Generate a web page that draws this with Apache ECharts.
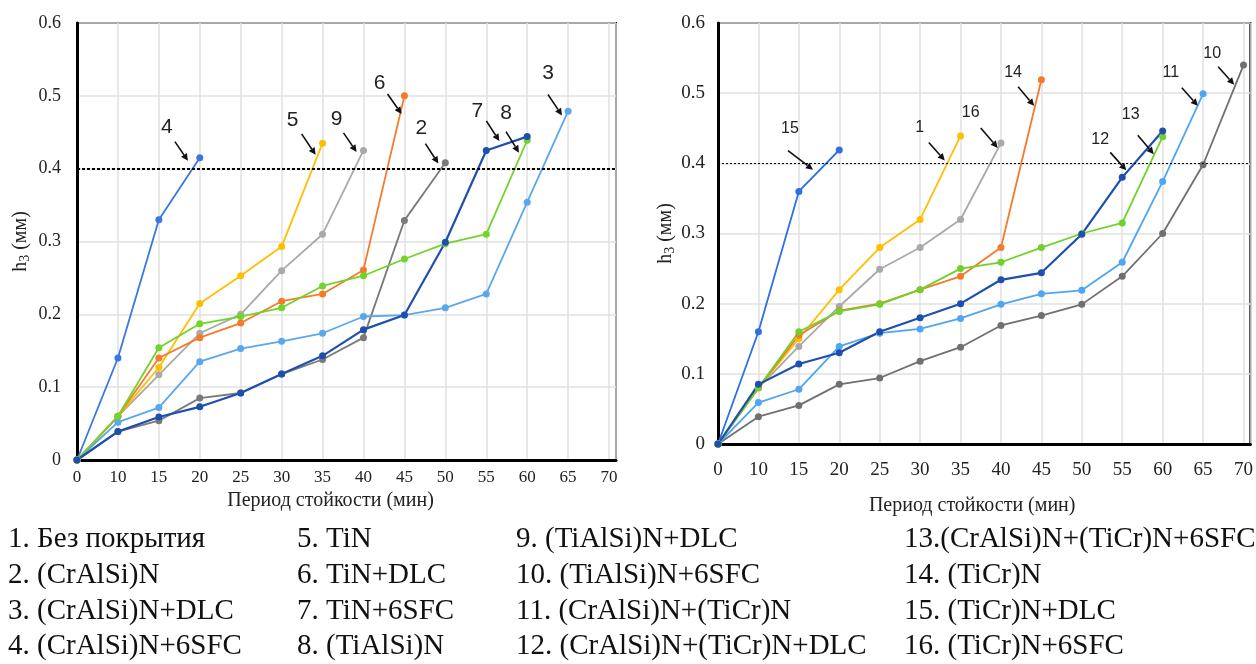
<!DOCTYPE html>
<html>
<head>
<meta charset="utf-8">
<script src="https://cdn.jsdelivr.net/npm/echarts@6/dist/echarts.min.js"></script>
<style>
  html, body { margin: 0; background: #fff; }
  #chart { width: 1256px; height: 664px; }
</style>
</head>
<body>
<div id="chart"></div>
<script>
// период стойкости, мин (одинаковые категории у обоих графиков)
const xTicks = ['0', '10', '15', '20', '25', '30', '35', '40', '45', '50', '55', '60', '65', '70']
const yTicks = ['0', '0.1', '0.2', '0.3', '0.4', '0.5', '0.6']
const limit = 0.4

// левый график, h3 (мм)
const s2 = [0, 0.039, 0.054, 0.085, 0.092, 0.118, 0.138, 0.168, 0.329, 0.408]
const s3 = [0, 0.052, 0.072, 0.135, 0.153, 0.163, 0.174, 0.197, 0.199, 0.209, 0.228, 0.354, 0.479]
const s4 = [0, 0.14, 0.33, 0.415]
const s5 = [0, 0.06, 0.127, 0.215, 0.253, 0.293, 0.435]
const s6 = [0, 0.06, 0.14, 0.168, 0.188, 0.218, 0.228, 0.261, 0.5]
const s7 = [0, 0.039, 0.059, 0.073, 0.092, 0.118, 0.143, 0.179, 0.199, 0.299, 0.425, 0.444]
const s8 = [0, 0.06, 0.154, 0.187, 0.197, 0.209, 0.239, 0.253, 0.276, 0.297, 0.31, 0.439]
const s9 = [0, 0.06, 0.117, 0.174, 0.2, 0.26, 0.31, 0.425]

// правый график
const s1 = [0, 0.08, 0.15, 0.22, 0.28, 0.32, 0.439]
const s10 = [0, 0.039, 0.055, 0.085, 0.094, 0.118, 0.138, 0.169, 0.183, 0.199, 0.239, 0.3, 0.398, 0.54]
const s11 = [0, 0.059, 0.078, 0.139, 0.158, 0.164, 0.179, 0.199, 0.214, 0.219, 0.259, 0.374, 0.499]
const s12 = [0, 0.085, 0.114, 0.13, 0.16, 0.18, 0.2, 0.234, 0.244, 0.299, 0.38, 0.446]
const s13 = [0, 0.08, 0.16, 0.189, 0.199, 0.22, 0.25, 0.259, 0.28, 0.3, 0.315, 0.438]
const s14 = [0, 0.08, 0.155, 0.19, 0.2, 0.22, 0.239, 0.28, 0.519]
const s15 = [0, 0.16, 0.36, 0.419]
const s16 = [0, 0.08, 0.139, 0.196, 0.249, 0.28, 0.32, 0.429]

const legendCol1 = ['1. Без покрытия', '2. (CrAlSi)N', '3. (CrAlSi)N+DLC', '4. (CrAlSi)N+6SFC']
const legendCol2 = ['5. TiN', '6. TiN+DLC', '7. TiN+6SFC', '8. (TiAlSi)N']
const legendCol3 = ['9. (TiAlSi)N+DLC', '10. (TiAlSi)N+6SFC', '11. (CrAlSi)N+(TiCr)N', '12. (CrAlSi)N+(TiCr)N+DLC']
const legendCol4 = ['13.(CrAlSi)N+(TiCr)N+6SFC', '14. (TiCr)N', '15. (TiCr)N+DLC', '16. (TiCr)N+6SFC']

// подписи-стрелки: номер, x (индекс категории), h3 острия, хвост dx/dy, текст dx/dy
const leftNotes = [
  ['4', 2.71, 0.411, -13, -19, -21, -33],
  ['5', 5.83, 0.419, -14, -21, -23, -35],
  ['9', 6.83, 0.423, -13, -19, -20, -33],
  ['6', 7.93, 0.475, -14, -20, -22, -31],
  ['2', 8.83, 0.407, -13, -20, -17, -35],
  ['7', 10.32, 0.438, -13, -20, -22, -30],
  ['8', 10.8, 0.422, -13, -21, -13, -39],
  ['3', 11.85, 0.473, -14, -21, -14, -42]
]
const rightNotes = [
  ['15', 2.35, 0.391, -25, -19, -23, -41],
  ['1', 5.61, 0.404, -16, -18, -25, -33],
  ['16', 6.92, 0.422, -17, -20, -27, -35],
  ['14', 7.82, 0.482, -16, -19, -21, -33],
  ['12', 10.1, 0.39, -16, -18, -26, -31],
  ['13', 10.78, 0.413, -16, -19, -23, -40],
  ['11', 11.87, 0.482, -16, -18, -27, -33],
  ['10', 12.77, 0.512, -16, -18, -22, -31]
]

const serif = "'Liberation Serif', 'DejaVu Serif', serif"

const chart = echarts.init(document.getElementById('chart'))

const mkLine = (name, data, color, g, width) => ({
  name: name,
  type: 'line',
  xAxisIndex: g,
  yAxisIndex: g,
  data: data.map((v, i) => [i, v]),
  symbol: 'circle',
  symbolSize: 7,
  color: color,
  lineStyle: {width: width || 1.8},
  emphasis: {disabled: true},
  animation: false
})

const mkX = (g, fontSize, margin, nameGap, namePad, nameSize) => ({
  type: 'value',
  gridIndex: g,
  min: 0,
  max: 13.17,
  interval: 1,
  axisLine: {show: true, lineStyle: {color: '#000', width: 3}},
  axisTick: {show: false},
  axisLabel: {
    margin: margin,
    color: '#222',
    fontFamily: serif,
    fontSize: fontSize,
    formatter: v => Number.isInteger(v) ? xTicks[v] : ''
  },
  splitLine: {show: true, lineStyle: {color: '#e0e0e0', width: 1.5}},
  name: 'Период стойкости (мин)',
  nameLocation: 'middle',
  nameGap: nameGap,
  nameTextStyle: {fontFamily: serif, fontSize: nameSize, color: '#222', padding: [0, namePad, 0, 0]}
})

const mkY = (g, fontSize, margin, nameGap, nameSize) => ({
  type: 'value',
  gridIndex: g,
  min: 0,
  max: 0.6,
  interval: 0.1,
  axisLine: {show: true, lineStyle: {color: '#000', width: 3}},
  axisTick: {show: false},
  axisLabel: {
    margin: margin,
    color: '#222',
    fontFamily: serif,
    fontSize: fontSize,
    formatter: v => yTicks[Math.round(v * 10)]
  },
  splitLine: {show: true, lineStyle: {color: '#e0e0e0', width: 1.5}},
  name: '{h|h}{s|3}{h| (мм)}',
  nameLocation: 'middle',
  nameGap: nameGap,
  nameRotate: 90,
  nameTextStyle: {
    rich: {
      h: {fontFamily: serif, fontSize: nameSize, color: '#222'},
      s: {fontFamily: serif, fontSize: nameSize - 6, color: '#222', padding: [8, 0, 0, 0]}
    }
  }
})

const limitLine = (width, dash) => ({
  silent: true,
  symbol: ['none', 'none'],
  label: {show: false},
  lineStyle: {color: '#000', width: width, type: dash},
  data: [{yAxis: limit}],
  animation: false
})

const series = [
  mkLine('4', s4, '#3a78e0', 0),
  mkLine('2', s2, '#7a7a7a', 0),
  mkLine('9', s9, '#a9a9a9', 0),
  mkLine('5', s5, '#ffbf00', 0),
  mkLine('6', s6, '#f47a2c', 0),
  mkLine('3', s3, '#5aa7ee', 0),
  mkLine('8', s8, '#72d329', 0),
  mkLine('7', s7, '#1e4fae', 0, 2.2),
  mkLine('15', s15, '#2e6fe3', 1),
  mkLine('10', s10, '#707070', 1),
  mkLine('16', s16, '#a9a9a9', 1),
  mkLine('1', s1, '#ffbf00', 1),
  mkLine('14', s14, '#f47a2c', 1),
  mkLine('11', s11, '#4ea6f2', 1),
  mkLine('13', s13, '#6fd22a', 1),
  mkLine('12', s12, '#1e4fae', 1, 2.2)
]
series[0].markLine = limitLine(2, [3, 2])
series[8].markLine = limitLine(1.2, [2, 2])

chart.setOption({
  animation: false,
  backgroundColor: '#fff',
  grid: [
    {left: 77, top: 23, width: 539, height: 437, show: true, borderColor: '#000', borderWidth: 2},
    {left: 718, top: 23, width: 543, height: 421, show: true, borderColor: '#000', borderWidth: 2}
  ],
  xAxis: [mkX(0, 17, 9, 30, 32, 20), mkX(1, 19, 17, 52, 24, 20)],
  yAxis: [mkY(0, 18, 16, 45, 20), mkY(1, 19, 13, 41, 20)],
  series: series
})

// стрелки и легенда поверх графиков
const graphics = []
const addNotes = (notes, g, font, fontSize) => {
  notes.forEach(n => {
    const tip = chart.convertToPixel({gridIndex: g}, [n[1], n[2]])
    const tail = [tip[0] + n[3], tip[1] + n[4]]
    const len = Math.hypot(n[3], n[4])
    const ux = -n[3] / len, uy = -n[4] / len
    const nx = -uy, ny = ux
    const back = [tip[0] - ux * 7, tip[1] - uy * 7]
    graphics.push({
      type: 'line',
      shape: {x1: tail[0], y1: tail[1], x2: back[0], y2: back[1]},
      style: {stroke: '#111', lineWidth: 1.6},
      z: 100
    })
    graphics.push({
      type: 'polygon',
      shape: {points: [tip, [back[0] + nx * 3.5, back[1] + ny * 3.5], [back[0] - nx * 3.5, back[1] - ny * 3.5]]},
      style: {fill: '#111'},
      z: 100
    })
    graphics.push({
      type: 'text',
      x: tip[0] + n[5],
      y: tip[1] + n[6],
      style: {text: n[0], font: fontSize + 'px ' + font, fill: '#222', align: 'center', verticalAlign: 'middle'},
      z: 100
    })
  })
}
addNotes(leftNotes, 0, "'Liberation Sans Narrow', 'Liberation Sans', sans-serif", 21)
addNotes(rightNotes, 1, "'Liberation Sans', sans-serif", 16)

const rowY = [539, 575, 611, 646]
const colX = [8, 297, 516, 904]
;[legendCol1, legendCol2, legendCol3, legendCol4].forEach((col, c) => {
  col.forEach((t, r) => {
    graphics.push({
      type: 'text',
      x: colX[c],
      y: rowY[r],
      style: {text: t, font: '29px ' + serif, fill: '#111', align: 'left', verticalAlign: 'middle'}
    })
  })
})

chart.setOption({graphic: graphics})
</script>
</body>
</html>
